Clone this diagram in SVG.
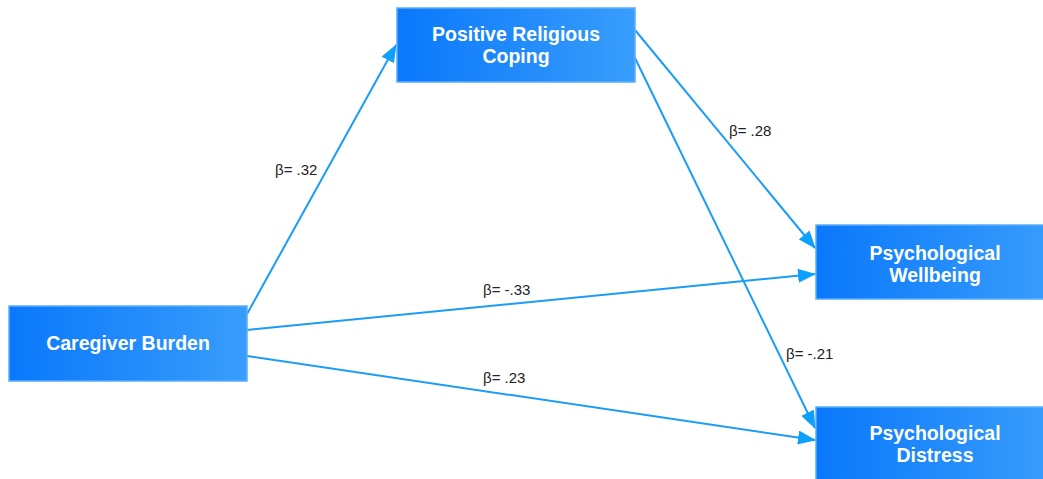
<svg xmlns="http://www.w3.org/2000/svg" width="1043" height="479" viewBox="0 0 1043 479">
<style>
.node rect{fill:url(#g);stroke:#5aaefc;stroke-width:1.5}
.node text{font-family:"Liberation Sans",Arial,sans-serif;font-weight:bold;font-size:19.5px;fill:#fff;text-anchor:middle}
.edge{stroke:#1a9cf7;stroke-width:2;fill:none;marker-end:url(#a)}
.lbl{font-family:"Liberation Sans",Arial,sans-serif;font-size:15px;fill:#222}
</style>
<defs>
<linearGradient id="g" x1="0" y1="0" x2="1" y2="0">
<stop offset="0" stop-color="#0a78fb"/>
<stop offset="1" stop-color="#389dfb"/>
</linearGradient>
<marker id="a" markerUnits="userSpaceOnUse" markerWidth="18" markerHeight="14" refX="17" refY="7" orient="auto">
<path d="M0,0 L18,7 L0,14 Z" fill="#0ea0ff"/>
</marker>
</defs>
<rect width="1043" height="479" fill="#fff"/>
<g id="connectors">
<line class="edge" x1="247" y1="314" x2="396" y2="45"/>
<line class="edge" x1="635" y1="30" x2="815" y2="248"/>
<line class="edge" x1="635" y1="58" x2="815" y2="428"/>
<line class="edge" x1="247" y1="330" x2="815" y2="274"/>
<line class="edge" x1="247" y1="356" x2="815" y2="440"/>
<text class="lbl" x="275" y="175">β= .32</text>
<text class="lbl" x="729" y="136">β= .28</text>
<text class="lbl" x="786" y="359">β= -.21</text>
<text class="lbl" x="483" y="295">β= -.33</text>
<text class="lbl" x="483" y="383">β= .23</text>
</g>
<g id="n-prc" class="node">
<rect x="397" y="8" width="238" height="74"/>
<text x="516" y="41">Positive Religious</text>
<text x="516" y="63">Coping</text>
</g>
<g id="n-cb" class="node">
<rect x="9" y="306" width="238" height="75"/>
<text x="128" y="350">Caregiver Burden</text>
</g>
<g id="n-pw" class="node">
<rect x="816" y="225" width="238" height="74"/>
<text x="935" y="260">Psychological</text>
<text x="935" y="282">Wellbeing</text>
</g>
<g id="n-pd" class="node">
<rect x="816" y="407" width="238" height="74"/>
<text x="935" y="440">Psychological</text>
<text x="935" y="462">Distress</text>
</g>
</svg>
